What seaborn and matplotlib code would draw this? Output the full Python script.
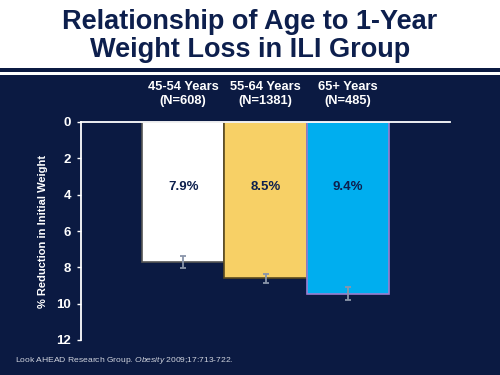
import pandas as pd
import seaborn as sns
import matplotlib.pyplot as plt
from matplotlib.patches import Rectangle

# data
groups = ['45-54 Years\n(N=608)', '55-64 Years\n(N=1381)', '65+ Years\n(N=485)']
reduction = [7.7, 8.6, 9.45]
err_low = [7.35, 8.35, 9.1]
err_high = [8.05, 8.85, 9.8]
bar_labels = ['7.9%', '8.5%', '9.4%']
bar_colors = ['#ffffff', '#f7d066', '#00aeef']
edge_colors = ['#555555', '#5a4a20', '#9a7fd0']
y_ticks = [0, 2, 4, 6, 8, 10, 12]

navy = '#0b1a42'
title_navy = '#0d1f4d'

sns.set_style('white')
plt.rcParams['font.family'] = ['Liberation Sans', 'DejaVu Sans']
plt.rcParams['mathtext.fontset'] = 'custom'
plt.rcParams['mathtext.rm'] = 'Liberation Sans'
plt.rcParams['mathtext.it'] = 'Liberation Sans:italic'

df = pd.DataFrame({'group': groups, 'reduction': reduction})

fig = plt.figure(figsize=(5, 3.75), dpi=100)
fig.patch.set_facecolor('white')

# navy slide background + double rule under the title
fig.add_artist(Rectangle((0, 0), 1, 1 - 75 / 375, transform=fig.transFigure,
                         facecolor=navy, edgecolor='none', zorder=-10))
fig.add_artist(Rectangle((0, 1 - 72 / 375), 1, 4 / 375, transform=fig.transFigure,
                         facecolor=navy, edgecolor='none', zorder=-10))

fig.text(0.5, 1 - 36 / 375, 'Relationship of Age to 1-Year\nWeight Loss in ILI Group',
         ha='center', va='center', fontsize=19.5, fontweight='bold',
         color=title_navy, linespacing=1.1)

ax = fig.add_axes([81 / 500, 1 - 340 / 375, 369 / 500, 218 / 375])
ax.set_facecolor(navy)

sns.barplot(data=df, x='group', y='reduction', hue='group', palette=bar_colors,
            width=1.0, legend=False, ax=ax, saturation=1)

for p, ec in zip(ax.patches, edge_colors):
    p.set_edgecolor(ec)
    p.set_linewidth(1.2)

xs = [p.get_x() + p.get_width() / 2 for p in ax.patches]
mid = [(lo + hi) / 2 for lo, hi in zip(err_low, err_high)]
half = [(hi - lo) / 2 for lo, hi in zip(err_low, err_high)]
ax.errorbar(xs, mid, yerr=half, fmt='none', ecolor='#8a95aa', elinewidth=1.3,
            capsize=2, capthick=1.3, zorder=5)

for x, lab in zip(xs, bar_labels):
    ax.text(x, 3.6, lab, ha='center', va='center', fontsize=9.5,
            fontweight='bold', color=title_navy)

for x, g in zip(xs, groups):
    ax.text(x, -0.8, g, ha='center', va='bottom', fontsize=9.3,
            fontweight='bold', color='white', linespacing=1.3)

ax.set_xlim(-1.24, 3.24)
ax.set_ylim(12, 0)
ax.set_yticks(y_ticks)
ax.set_yticklabels([str(t) for t in y_ticks], fontsize=9.5, fontweight='bold', color='white')
ax.tick_params(axis='y', left=True, length=3, width=1, color='white', pad=4)
ax.set_xticks([])
ax.set_xlabel('')
ax.set_ylabel('% Reduction in Initial Weight', fontsize=8, fontweight='bold',
              color='white', labelpad=6)

for side in ['bottom', 'right']:
    ax.spines[side].set_visible(False)
for side in ['left', 'top']:
    ax.spines[side].set_color('white')
    ax.spines[side].set_linewidth(1.3)

# citation with italic journal name
fig.text(15 / 500, 1 - 361 / 375,
         r'Look AHEAD Research Group. $\mathit{Obesity}$ 2009;17:713-722.',
         fontsize=6.1, color='#d0d4de', va='center')

fig.savefig('out.png', dpi=100, facecolor=fig.get_facecolor())
